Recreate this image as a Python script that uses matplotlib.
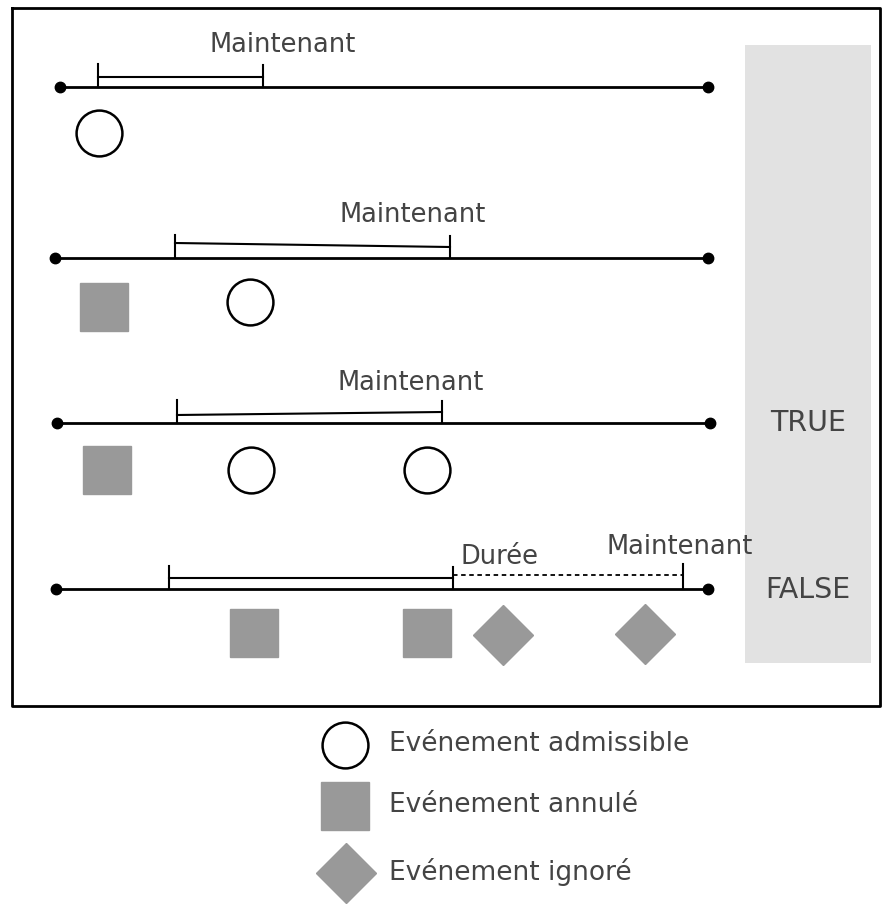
import matplotlib.pyplot as plt

# timelines (pixel-like coordinates, y grows downward)
rows_y = [87, 258, 423, 589]
line_x0 = [60, 55, 57, 56]
line_x1 = [708, 708, 710, 708]

# "Maintenant" window brackets
win_x0 = [98, 175, 177, 169]
win_x1 = [263, 450, 442, 453]
win_y0 = [77, 243, 415, 578]
win_y1 = [77, 247, 412, 578]
now_x = [283, 413, 411, 680]
now_y = [45, 215, 383, 547]

# "Durée" dashed extension on the last row
dur_x0, dur_x1, dur_y = 453, 683, 575
dur_label = (500, 557)

# events
circle_x = [99, 250, 251, 427]
circle_y = [133, 302, 470, 470]
square_x = [104, 107, 254, 427]
square_y = [307, 470, 633, 633]
diamond_x = [503, 645]
diamond_y = [635, 634]

# result panel
result_labels = ["TRUE", "FALSE"]
result_y = [423, 590]

legend_labels = ["Evénement admissible", "Evénement annulé", "Evénement ignoré"]
legend_y = [745, 806, 873]

grey = "#999999"
txt = "#444444"
plt.rcParams['font.family'] = ['DejaVu Sans']

fig = plt.figure(figsize=(8.87, 9.05), dpi=100)
ax = fig.add_axes([0, 0, 1, 1])
ax.set_xlim(0, 887)
ax.set_ylim(905, 0)
ax.axis('off')

# outer frame
ax.plot([12, 880, 880, 12, 12], [8, 8, 706, 706, 8], color='black', lw=2)

# grey result panel
ax.fill_between([745, 871], 45, 663, color='#e2e2e2', lw=0)
for lab, y in zip(result_labels, result_y):
    ax.text(808, y, lab, ha='center', va='center', fontsize=20.5, color=txt)

for i, y in enumerate(rows_y):
    ax.plot([line_x0[i], line_x1[i]], [y, y], color='black', lw=2)
    ax.plot([line_x0[i], line_x1[i]], [y, y], 'o', color='black', ms=7.5)
    # bracket
    top = y - 23
    ax.plot([win_x0[i], win_x0[i]], [top, y], color='black', lw=1.5)
    ax.plot([win_x1[i], win_x1[i]], [top + 1, y], color='black', lw=1.5)
    ax.plot([win_x0[i], win_x1[i]], [win_y0[i], win_y1[i]], color='black', lw=1.5)
    ax.text(now_x[i], now_y[i], "Maintenant", ha='center', va='center',
            fontsize=18.5, color=txt)

# Durée dashed part
ax.plot([dur_x0, dur_x1], [dur_y, dur_y], color='black', lw=1.3, ls=(0, (2.5, 2)))
ax.plot([dur_x1, dur_x1], [rows_y[3] - 25, rows_y[3]], color='black', lw=1.5)
ax.text(dur_label[0], dur_label[1], "Durée", ha='center', va='center',
        fontsize=18.5, color=txt)

# events
ax.plot(circle_x, circle_y, 'o', ms=33, mfc='white', mec='black', mew=1.8, ls='none')
ax.plot(square_x, square_y, 's', ms=34.5, color=grey, ls='none')
ax.plot(diamond_x, diamond_y, 'D', ms=30.5, color=grey, ls='none')

# legend
ax.plot([345], [legend_y[0]], 'o', ms=33, mfc='white', mec='black', mew=1.8)
ax.plot([345], [legend_y[1]], 's', ms=34, color=grey)
ax.plot([346], [legend_y[2]], 'D', ms=31, color=grey)
for lab, y in zip(legend_labels, legend_y):
    ax.text(389, y - 1, lab, ha='left', va='center', fontsize=19, color=txt)

fig.savefig("out.png", dpi=100)
